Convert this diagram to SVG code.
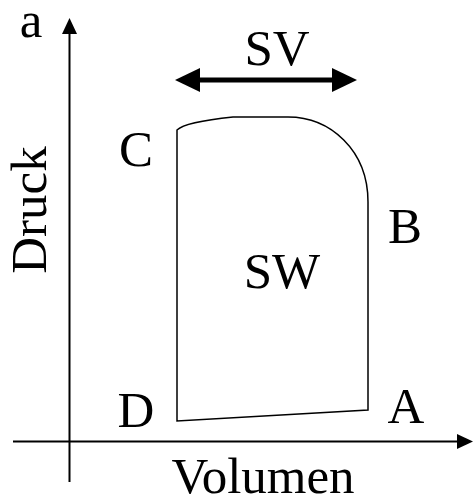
<svg xmlns="http://www.w3.org/2000/svg" width="473" height="498" viewBox="0 0 473 498">
<style>
text{font-family:"Liberation Serif","Times New Roman",serif;font-size:51px;fill:#000;text-anchor:middle}
.ax{stroke:#000;stroke-width:2;fill:none}
</style>
<rect width="473" height="498" fill="#fff"/>
<g id="connectors">
<line class="ax" x1="69.5" y1="482" x2="69.5" y2="32"/>
<polygon points="69.5,18 62,34 77,34" fill="#000"/>
<line class="ax" x1="13" y1="441.5" x2="458" y2="441.5"/>
<polygon points="473,441.5 457,434 457,449" fill="#000"/>
<line x1="196" y1="80" x2="338" y2="80" stroke="#000" stroke-width="5"/>
<polygon points="175,80 200,68 200,92" fill="#000"/>
<polygon points="357,80 332,68 332,92" fill="#000"/>
</g>
<g id="cycle">
<path d="M177,421 L177,130 Q185,122 233,117 L288,117 C330,117 368,150 368,202 L368,410 Z" fill="none" stroke="#000" stroke-width="1.5"/>
</g>
<g id="labels">
<text x="31" y="37">a</text>
<text x="277" y="65">SV</text>
<text x="136" y="166">C</text>
<text x="405" y="243">B</text>
<text x="282" y="288">SW</text>
<text x="136" y="427">D</text>
<text x="406" y="423">A</text>
<text x="263" y="493">Volumen</text>
<text transform="translate(46,210) rotate(-90)">Druck</text>
</g>
</svg>
